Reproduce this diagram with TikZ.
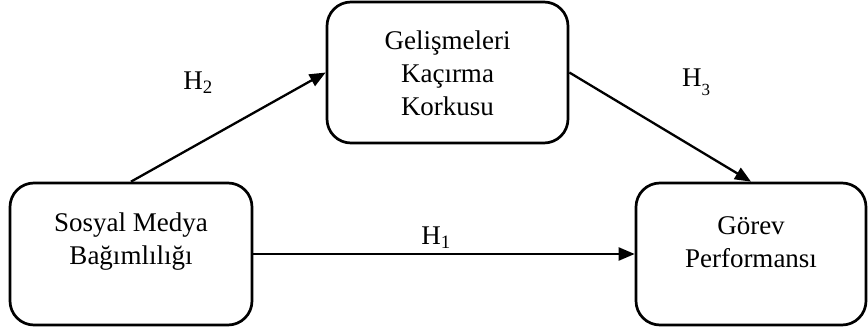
\documentclass[tikz,border=0pt]{standalone}
\usepackage{fontspec}
\setmainfont{Liberation Serif}
\usetikzlibrary{arrows.meta}
\tikzset{
  box/.style={draw, line width=2.7pt, rounded corners=24pt, inner sep=0pt},
  lbl/.style={font=\fontsize{27}{33}\selectfont, align=center, inner sep=0pt},
  conn/.style={line width=2.3pt, -{Triangle[length=16pt,width=13pt]}},
}
\begin{document}
\begin{tikzpicture}[x=1pt,y=-1pt]
\useasboundingbox (0,0) rectangle (868,331);
% boxes
\node[box, minimum width=242pt, minimum height=142pt] (sm) at (131,254) {};
\node[box, minimum width=241pt, minimum height=141pt] (fomo) at (447.5,72.5) {};
\node[box, minimum width=230pt, minimum height=142pt] (gp) at (751,254) {};
% texts
\node[lbl] (smt) at (131,242) {Sosyal Medya\\Bağımlılığı};
\node[lbl] (fomot) at (447.5,73) {Gelişmeleri\\Kaçırma\\Korkusu};
\node[lbl] (gpt) at (751,242) {Görev\\Performansı};
% connectors
\draw[conn] (sm.north) -- (fomo.west);
\draw[conn] (fomo.east) -- (gp.north);
\draw[conn] (sm.east) -- (gp.west);
% hypothesis labels
\node[lbl] (h2) at (198,83) {H\textsubscript{2}};
\node[lbl] (h3) at (696,82) {H{\fontsize{17}{17}\selectfont\raisebox{-9pt}{3}}};
\node[lbl] (h1) at (436,238) {H\textsubscript{1}};
\end{tikzpicture}
\end{document}
